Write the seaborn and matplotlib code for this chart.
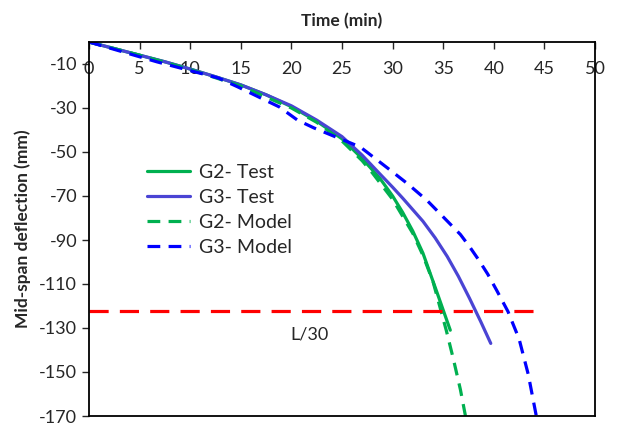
import pandas as pd
import matplotlib
matplotlib.use("Agg")
import matplotlib.pyplot as plt
import seaborn as sns

# Dados
tempo_g2_teste = [0, 2.5, 5, 7.5, 10, 12.5, 15, 17.5, 20, 22.5, 25, 27, 28.75, 30, 31, 32, 33, 34.4, 35.7]
desl_g2_teste = [0, -3, -6, -9, -12.3, -15.8, -19.5, -24, -29.4, -36, -44, -53, -62, -70, -77.5, -86, -96, -114, -131]

tempo_g3_teste = [0, 2.5, 5, 7.5, 10, 12.5, 15, 17.5, 20, 22.5, 25, 27, 28.75, 30, 31, 33, 34.2, 35.4, 36.5, 37.6, 38.7, 39.7]
desl_g3_teste = [0, -3, -6, -9, -12.3, -15.8, -19.5, -24, -29, -35.5, -43, -51.5, -60, -66, -71, -81.5, -89, -97.5, -106.5, -116.5, -127, -137]

tempo_g2_modelo = [0, 5, 10, 15, 20, 22.5, 25, 27, 28, 30, 32, 33, 34, 35.3, 36, 36.7, 37.2]
desl_g2_modelo = [0, -6, -12.5, -20, -30, -36.5, -45, -54, -59.5, -71.5, -87, -97, -109, -131, -144, -158, -170]

tempo_g3_modelo = [0, 6.7, 12.8, 14.7, 18.8, 20.6, 22.2, 24.3, 26.8, 29.7, 31.5, 33.4, 35, 36.7, 37.6, 38.5, 39.4, 40.3, 41.4, 42.5, 43.4, 44.2]
desl_g3_modelo = [0, -9, -16.4, -20.4, -29.5, -35.5, -39, -43, -47.7, -58, -64.5, -72, -79.5, -87.5, -93, -99, -105.5, -113, -122.5, -135, -151, -170]

limite_tempo = [0, 45]
limite_desl = [-122.5, -122.5]

sns.set_theme(style="white")
plt.rcParams['font.family'] = ['Lato', 'DejaVu Sans']
plt.rcParams['axes.unicode_minus'] = False

fig = plt.figure(figsize=(6.2, 4.23), dpi=100)
ax = fig.add_axes([89 / 620, 7 / 423, 506 / 620, 374 / 423])

series = [
    (tempo_g2_teste, desl_g2_teste, "G2- Test", "#00B050", "-"),
    (tempo_g3_teste, desl_g3_teste, "G3- Test", "#4A44D4", "-"),
    (tempo_g2_modelo, desl_g2_modelo, "G2- Model", "#00B050", (0, (4, 2.6))),
    (tempo_g3_modelo, desl_g3_modelo, "G3- Model", "#0000FF", (0, (4, 2.6))),
]
for t, d, nome, cor, estilo in series:
    df = pd.DataFrame({"t": t, "d": d})
    sns.lineplot(data=df, x="t", y="d", ax=ax, sort=False, estimator=None,
                 color=cor, linestyle=estilo, linewidth=2.3, label=nome)

df_lim = pd.DataFrame({"t": limite_tempo, "d": limite_desl})
sns.lineplot(data=df_lim, x="t", y="d", ax=ax, sort=False, estimator=None,
             color="#FF0000", linestyle=(0, (6, 3.5)), linewidth=2.3, legend=False)
ax.text(21.8, -133, "L/30", fontsize=13, ha="center", va="center")

ax.set_xlim(0, 50)
ax.set_ylim(-170, 0)
ax.set_xticks(range(0, 51, 5))
ax.set_yticks(range(-170, 0, 20))

ax.xaxis.tick_top()
ax.xaxis.set_label_position("top")
ax.tick_params(axis="x", direction="in", length=5, width=1, pad=-25, labelsize=13, top=True, bottom=False)
ax.tick_params(axis="y", direction="out", length=5, width=1, labelsize=13, left=True)

ax.set_xlabel("Time (min)", fontsize=12.5, fontweight="bold", labelpad=11)
ax.set_ylabel("Mid-span deflection (mm)", fontsize=12.5, fontweight="bold", labelpad=6)

for s in ax.spines.values():
    s.set_color("black")
    s.set_linewidth(1.3)

ax.legend(loc="upper left", bbox_to_anchor=(0.08, 0.72), frameon=False,
          fontsize=14, handlelength=2.2, handletextpad=0.5, labelspacing=0.4)

plt.savefig("out.png", dpi=100)
